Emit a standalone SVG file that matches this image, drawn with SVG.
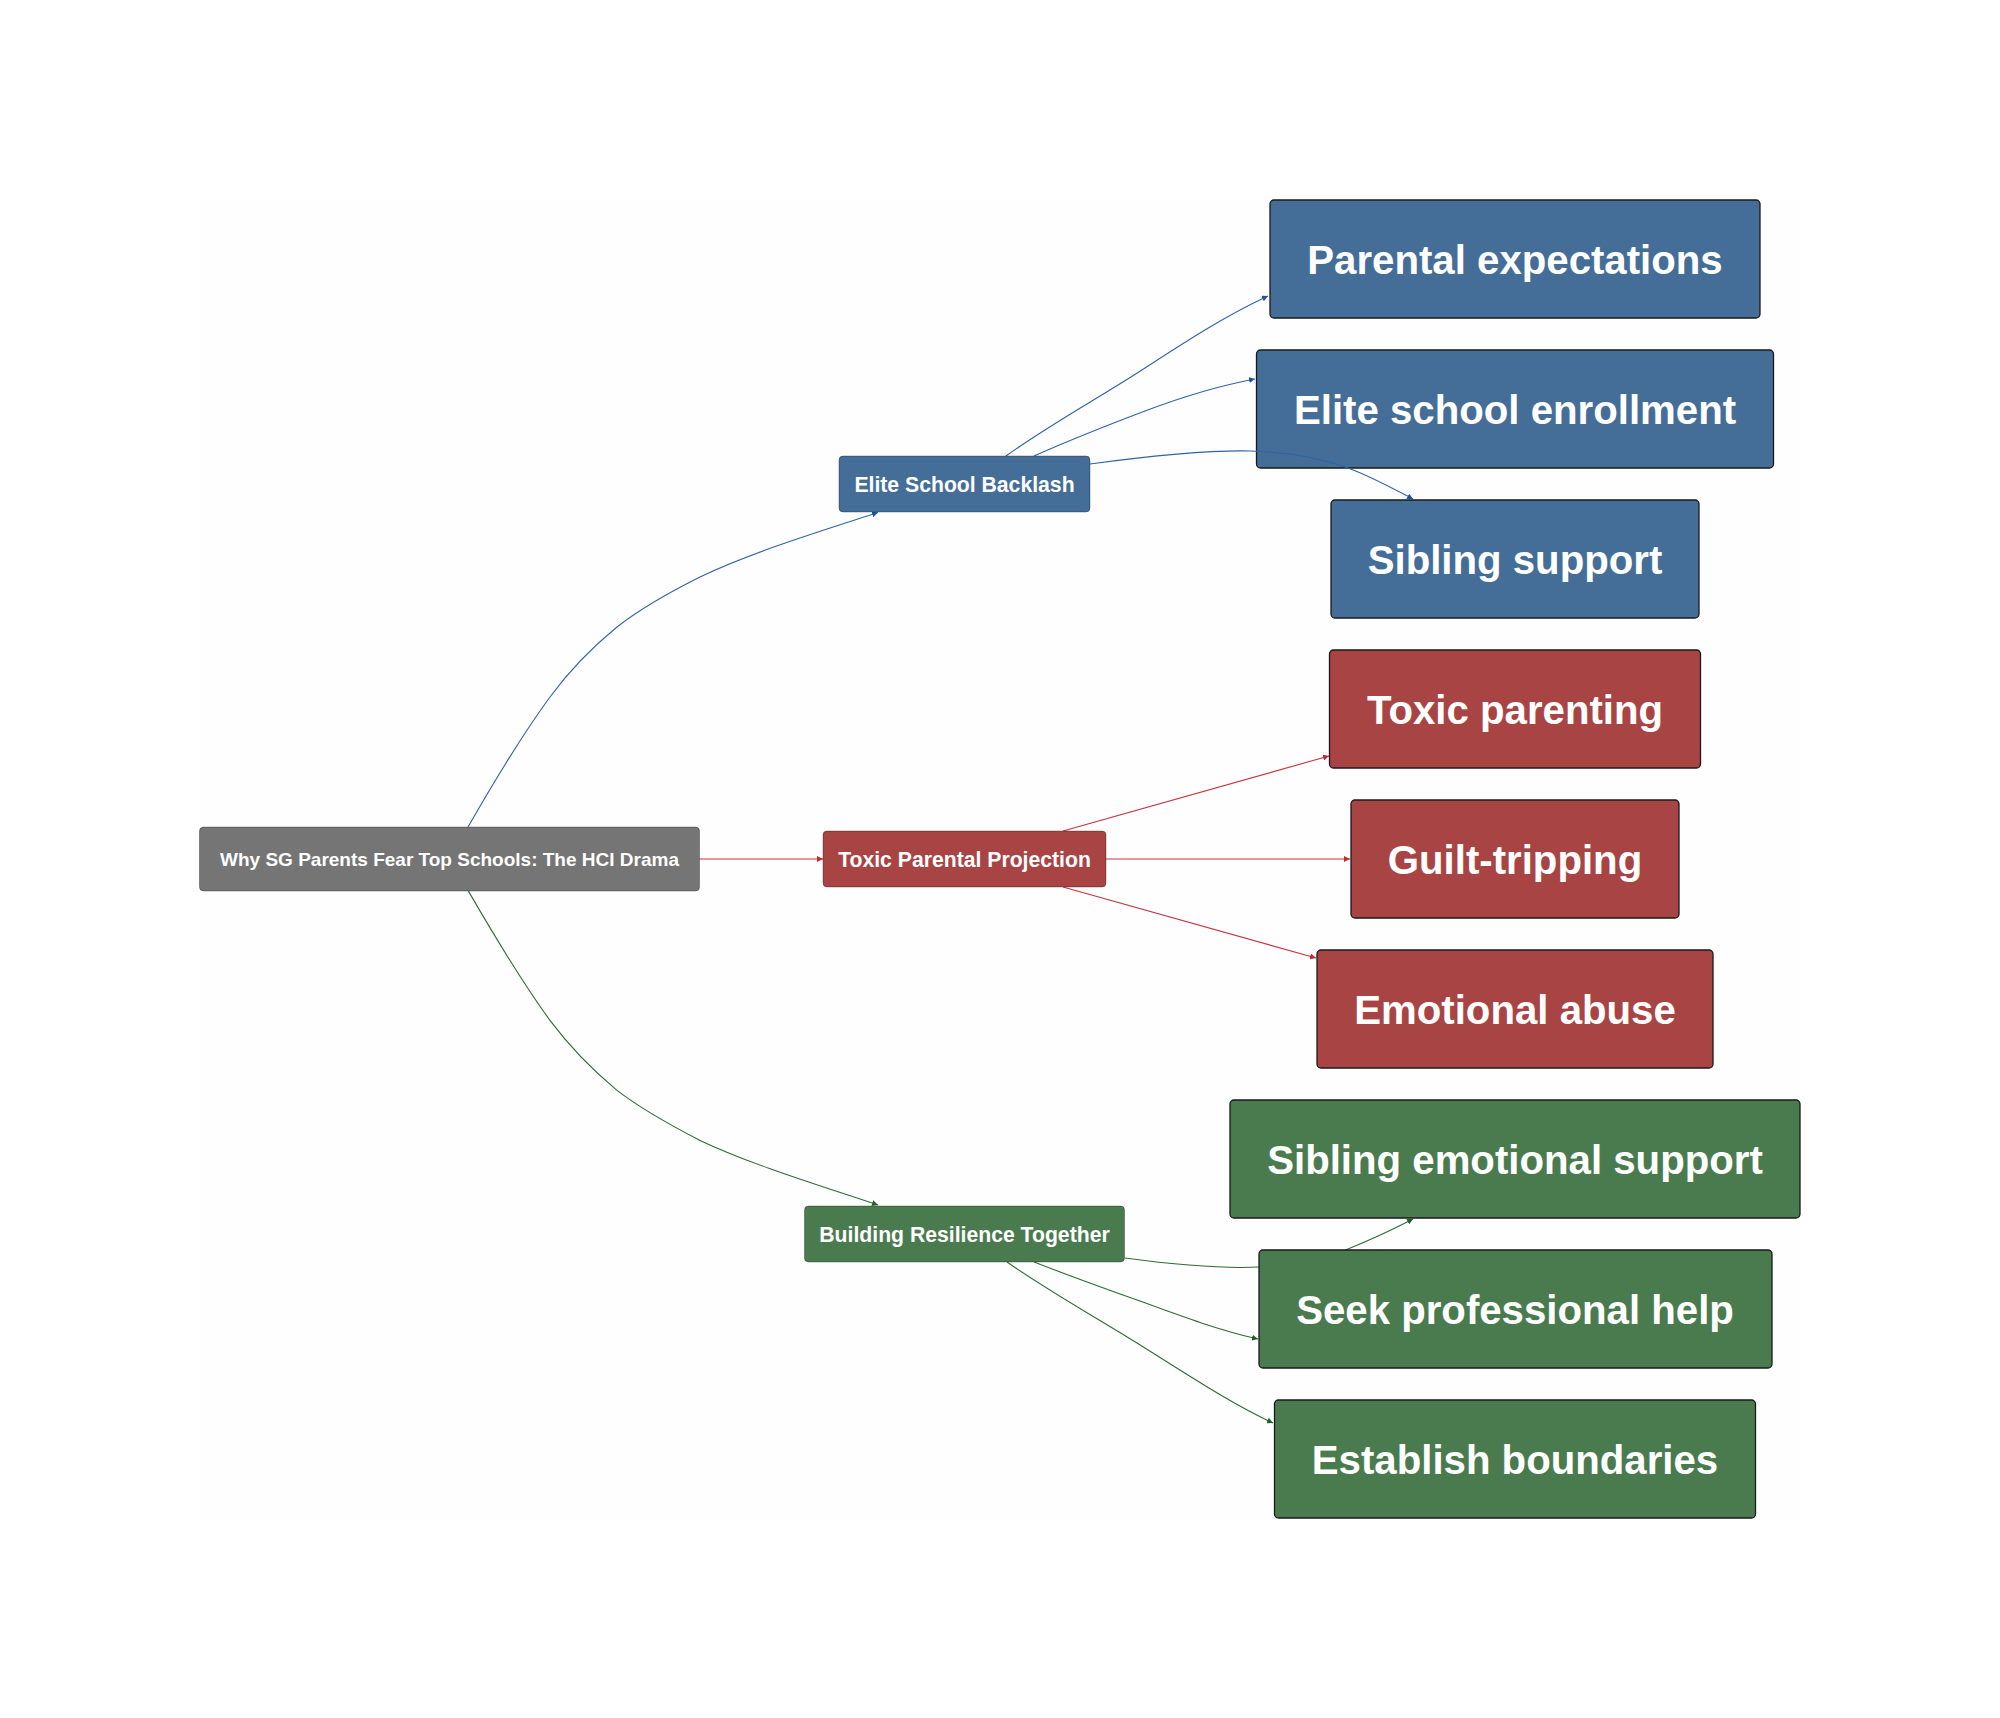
<svg xmlns="http://www.w3.org/2000/svg" width="2000" height="1718" viewBox="0 0 2000 1718">
<style>
text{font-family:"Liberation Sans",Arial,sans-serif;font-weight:700;fill:#fff;text-anchor:middle;dominant-baseline:central}
.s text{font-size:21.2px}
#root text{font-size:19px}
.l text{font-size:40.2px}
.s rect{stroke-width:1;stroke-opacity:.3;stroke:#000}
.l rect{stroke:#1a1a1a;stroke-width:1.3}
.b rect{fill:#446e98}.r rect{fill:#a84444}.g rect{fill:#4a7b4f}
#connectors path{fill:none;stroke-width:1.1}
.eb{stroke:#2f62a8}.er{stroke:#c4343f}.eg{stroke:#2f6b36}
</style>
<defs>
<marker id="mb" markerWidth="7" markerHeight="6" refX="6" refY="3" orient="auto" markerUnits="userSpaceOnUse"><path d="M0 0L6 3L0 6z" fill="#1f55a0"/></marker>
<marker id="mr" markerWidth="7" markerHeight="6" refX="6" refY="3" orient="auto" markerUnits="userSpaceOnUse"><path d="M0 0L6 3L0 6z" fill="#c02a35"/></marker>
<marker id="mg" markerWidth="7" markerHeight="6" refX="6" refY="3" orient="auto" markerUnits="userSpaceOnUse"><path d="M0 0L6 3L0 6z" fill="#235f2b"/></marker>
</defs>
<rect x="199" y="199" width="1601" height="1320" fill="#fefefe"/>
<g id="n11" class="l b"><rect x="1270" y="200" width="490" height="118" rx="4"/><text x="1515" y="260.700">Parental expectations</text></g>
<g id="n12" class="l b"><rect x="1256.500" y="350" width="517" height="118" rx="4"/><text x="1515" y="410.700">Elite school enrollment</text></g>
<g id="connectors">
<path class="eb" marker-end="url(#mb)" d="M468 827C495 780 522 735 550 697C572 667 595 645 617 627C640 609 670 592 700 577C750 553 815 533 878 512.500"/>
<path class="er" marker-end="url(#mr)" d="M699 859H823"/>
<path class="eg" marker-end="url(#mg)" d="M468 890.400C495 937 522 982 550 1020.400C572 1050 595 1072 617 1090.400C640 1108 670 1125 700 1140.400C750 1164 815 1184 878 1205"/>
<path class="eb" marker-end="url(#mb)" d="M1006 456C1052 423 1099 398 1145 368C1185 342 1225 316 1268 296"/>
<path class="eb" marker-end="url(#mb)" d="M1034 456C1070 440 1108 425 1145 411C1182 397 1218 386 1255 379"/>
<path class="eb" marker-end="url(#mb)" d="M1090 464C1150 456 1205 450 1250 451C1290 452 1320 458 1348 468C1370 476 1390 487 1413 499"/>
<path class="er" marker-end="url(#mr)" d="M1063 831L1329 756"/>
<path class="er" marker-end="url(#mr)" d="M1106 859H1350"/>
<path class="er" marker-end="url(#mr)" d="M1063 887L1316 958"/>
<path class="eg" marker-end="url(#mg)" d="M1125 1258C1170 1264 1220 1269 1259 1267C1295 1265 1320 1261 1348 1249C1370 1240 1390 1231 1413 1219"/>
<path class="eg" marker-end="url(#mg)" d="M1034 1262C1070 1276 1103 1288 1137 1300C1178 1315 1218 1330 1258 1339"/>
<path class="eg" marker-end="url(#mg)" d="M1007 1262C1050 1292 1092 1315 1137 1343C1185 1373 1230 1403 1273 1423"/>
</g>
<g id="root" class="s"><rect x="199.500" y="827" width="500" height="64" rx="4" fill="#757575"/><text x="449.500" y="859">Why SG Parents Fear Top Schools: The HCI Drama</text></g>
<g id="n1" class="s b"><rect x="839" y="456" width="251" height="56" rx="4"/><text x="964.500" y="484">Elite School Backlash</text></g>
<g id="n2" class="s r"><rect x="823" y="831" width="283" height="56" rx="4"/><text x="964.500" y="859">Toxic Parental Projection</text></g>
<g id="n3" class="s g"><rect x="804.500" y="1206" width="320" height="56" rx="4"/><text x="964.500" y="1234">Building Resilience Together</text></g>
<g id="n13" class="l b"><rect x="1331" y="500" width="368" height="118" rx="4"/><text x="1515" y="560.700">Sibling support</text></g>
<g id="n21" class="l r"><rect x="1329.500" y="650" width="371" height="118" rx="4"/><text x="1515" y="710.700">Toxic parenting</text></g>
<g id="n22" class="l r"><rect x="1351" y="800" width="328" height="118" rx="4"/><text x="1515" y="860.700">Guilt-tripping</text></g>
<g id="n23" class="l r"><rect x="1317" y="950" width="396" height="118" rx="4"/><text x="1515" y="1010.700">Emotional abuse</text></g>
<g id="n31" class="l g"><rect x="1230" y="1100" width="570" height="118" rx="4"/><text x="1515" y="1160.700">Sibling emotional support</text></g>
<g id="n32" class="l g"><rect x="1259" y="1250" width="513" height="118" rx="4"/><text x="1515" y="1310.700">Seek professional help</text></g>
<g id="n33" class="l g"><rect x="1274.500" y="1400" width="481" height="118" rx="4"/><text x="1515" y="1460.700">Establish boundaries</text></g>
</svg>
